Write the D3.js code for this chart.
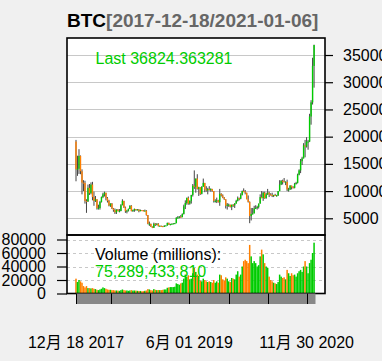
<!DOCTYPE html>
<html><head><meta charset="utf-8">
<script src="https://cdn.jsdelivr.net/npm/d3@7"></script>
<style>
html,body{margin:0;padding:0;background:#f0f0f0;}
svg{display:block;font-family:"Liberation Sans",Arial,"Noto Sans CJK SC",sans-serif;}
</style></head>
<body><svg id="c" width="382" height="361"></svg>
<script>
// weekly candles, week starting Monday 2017-12-18 .. 2021-01-04
const open = [19100,14000,
 14100,16477,13650,11560,11500,8200,8100,10600,9600,11200,8900,8200,8500,6850,6900,8000,8900,9400,9700,8700,8200,7350,7700,6800,6500,6100,6600,6300,6350,7400,8200,7000,6300,6400,6700,7300,6300,6500,6700,6600,6600,6300,6500,6450,6400,6400,5600,4000,4000,3500,3250,4000,3850,
 4000,3550,3600,3550,3450,3650,3680,4150,3850,3950,4000,4050,4100,5100,5150,5300,5200,5800,7200,7800,8750,7700,8200,9300,11000,10800,12300,10400,10700,9500,10800,11500,10300,10100,10400,10300,10400,10000,8200,8200,8300,7950,9500,9200,8800,8500,7300,7500,7500,7100,7500,7400,
 7700,8200,8700,8600,9300,10000,9900,9700,8500,8000,5400,5800,5900,6800,6900,7100,7700,8900,8700,9700,8700,9400,9700,9400,9300,9100,9300,9200,9200,10000,11200,11900,11800,11700,11700,10300,10300,11000,10700,10600,11300,11500,13000,13800,15500,16000,18400,18200,19100,19100,23700,26300,
 33000];
const high = [19400,16500,
 17700,16540,14000,12000,11900,8500,11200,11300,11600,11700,9900,9100,8500,7500,8200,9000,9700,9900,9700,8900,8400,7750,7800,6900,6800,6650,6700,6700,7600,8500,8200,7150,6550,6800,7400,7400,6600,6800,6700,6700,6700,6600,6500,6500,6600,6500,5600,4400,4000,3500,4200,4100,4100,
 4100,3700,3650,3600,3700,3700,4200,4200,4000,4050,4100,4150,5200,5400,5400,5600,5900,7500,8300,8800,9000,8300,9300,11300,13800,12300,13100,10800,10700,10900,12300,11500,10900,10600,10900,10500,10400,10000,8500,8800,8400,10400,9600,9400,8900,8500,7800,7700,7500,7500,7600,7800,
 8400,9000,8800,9600,10100,10500,10200,9700,9200,8100,6900,6900,7300,7400,7300,7700,9400,10000,9900,9900,9700,10400,9900,9600,9700,9300,9500,9300,10000,12000,12000,12100,12400,11800,12100,10600,11100,11000,10900,11500,11700,13200,14000,15900,16300,18800,19400,19900,19400,24200,26700,34500,
 36900];
const low = [11800,12800,
 13154,13100,9400,10000,7700,6000,8000,9300,9400,8300,7300,8000,6600,6600,6600,7900,8700,9000,8300,7900,7200,7100,6700,6200,5800,5800,6300,6100,6300,7400,6900,6000,5900,6250,6700,6300,6200,6200,6400,6500,6100,6300,6400,6300,6300,5500,3900,3600,3400,3200,3250,3600,3700,
 3500,3550,3500,3400,3400,3600,3650,3800,3700,3850,3950,3950,4100,4950,5000,5100,5200,5700,6700,7500,7500,7500,7700,9000,10400,9700,10300,9100,9300,9400,10800,9800,9900,9400,10100,9900,9900,7900,7900,7800,7900,7300,9000,8700,8400,6800,6600,7100,7000,6500,7100,6900,
 7700,8100,8300,8500,9200,9800,9400,8500,7900,4100,4600,5700,5900,6700,6600,6800,7700,8700,8200,8600,8600,9300,8900,9200,8900,8900,9100,9000,9100,10000,11100,11200,11600,11100,10000,9900,10200,10300,10500,10500,11200,11400,12900,13300,14800,16000,16200,18000,17600,19000,22200,25900,
 29000];
const close = [14000,14100,
 16477,13650,11560,11500,8200,8100,10600,9600,11200,8900,8200,8500,6850,6900,8000,8900,9400,9700,8700,8200,7350,7700,6800,6500,6100,6600,6300,6350,7400,8200,7000,6300,6400,6700,7300,6300,6500,6700,6600,6600,6300,6500,6450,6400,6400,5600,4000,4000,3500,3250,4000,3850,4000,
 3550,3600,3550,3450,3650,3680,4150,3850,3950,4000,4050,4100,5100,5150,5300,5200,5800,7200,7800,8750,7700,8200,9300,11000,10800,12300,10400,10700,9500,10800,11500,10300,10100,10400,10300,10400,10000,8200,8200,8300,7950,9500,9200,8800,8500,7300,7500,7500,7100,7500,7400,7700,
 8200,8700,8600,9300,10000,9900,9700,8500,8000,5400,5800,5900,6800,6900,7100,7700,8900,8700,9700,8700,9400,9700,9400,9300,9100,9300,9200,9200,10000,11200,11900,11800,11700,11700,10300,10300,11000,10700,10600,11300,11500,13000,13800,15500,16000,18400,18200,19100,19100,23700,26300,33000,
 36824.363281];
// volume (millions)
const volume = [22000,17000,
 20000,18000,16000,11000,9000,11000,8000,8000,7500,8000,7000,6500,5500,5000,6000,7000,9000,8000,7000,6000,5500,5500,5000,5000,4500,4500,4300,4000,5000,6000,5000,4500,4500,4000,4500,5000,4300,4500,4300,4000,3800,3800,3300,3500,4000,4500,6500,6000,5000,4500,6500,5500,5000,
 5200,5000,5000,5500,6000,6000,8500,9000,9500,9500,9500,10000,15000,14000,13000,15000,16000,22000,28000,25000,27000,21000,22000,30000,38000,32000,28000,26000,19000,18000,22000,20000,18000,17000,18000,17000,16000,20000,16000,18000,16000,28000,27000,21000,19000,24000,22000,18000,17000,23000,22000,21000,
 28000,33000,25000,28000,40000,48000,50000,48000,45000,72000,55000,45000,48000,45000,40000,42000,55000,65000,58000,45000,40000,38000,25000,20000,18000,16000,15000,14000,17000,28000,25000,23000,24000,21000,35000,30000,26000,30000,27000,28000,25000,30000,33000,35000,32000,40000,48000,40000,30000,45000,50000,60000,
 75289.43381];
const priceTicks = [5000,10000,15000,20000,25000,30000,35000];
const volTicks = [0,20000,40000,60000,80000];
const axisTickDates = ["2017-12-18","2018-06-01","2018-12-01","2019-06-01","2019-12-01","2020-06-01","2020-11-30"];
const labelledTicks = ["2017-12-18","2019-06-01","2020-11-30"];
const symbol = "BTC", rangeText = "[2017-12-18/2021-01-06]";

const parse = d3.timeParse("%Y-%m-%d");
const dates = d3.timeMonday.range(parse("2017-12-18"), parse("2021-01-05"));
const data = dates.map((d,i)=>({d, o:open[i], h:high[i], l:low[i], c:close[i], v:volume[i]}));

const upCol = "#00cc00", dnCol = "#ff7f00", wickCol = "#444444";
const L = 67, R = 325, T1 = 38, B1 = 235, B2 = 293.5;
const FS = "16px";
const svg = d3.select("#c");
const x = d3.scaleTime().domain([parse("2017-12-18"), parse("2021-01-06")]).range([76, 314.5]);
const yP = d3.scaleLinear().domain([1932, 38125]).range([B1, T1]);
const yV = d3.scaleLinear().domain([0, 86670]).range([B2, B1]);

// panels
svg.append("rect").attr("x",L).attr("y",T1).attr("width",R-L).attr("height",B1-T1).attr("fill","#fff");
svg.append("rect").attr("x",L).attr("y",B1).attr("width",R-L).attr("height",B2-B1).attr("fill","#fff");

// price grid
svg.append("g").selectAll("line").data(priceTicks).join("line")
  .attr("x1",L).attr("x2",R).attr("y1",d=>Math.round(yP(d))+0.5).attr("y2",d=>Math.round(yP(d))+0.5)
  .attr("stroke","#c8c8c8").attr("stroke-width",1.2);
// volume grid
svg.append("g").selectAll("line").data(volTicks.filter(v=>v>0)).join("line")
  .attr("x1",L).attr("x2",R).attr("y1",d=>Math.round(yV(d))+0.5).attr("y2",d=>Math.round(yV(d))+0.5)
  .attr("stroke","#c8c8c8").attr("stroke-dasharray","3,3");

// candles
const bw = 1.4;
const cg = svg.append("g");
cg.selectAll("line").data(data).join("line")
  .attr("x1",d=>x(d.d)).attr("x2",d=>x(d.d)).attr("y1",d=>yP(d.h)).attr("y2",d=>yP(d.l))
  .attr("stroke",wickCol).attr("stroke-width",1);
cg.selectAll("rect").data(data).join("rect")
  .attr("x",d=>x(d.d)-bw/2).attr("width",bw)
  .attr("y",d=>yP(Math.max(d.o,d.c))).attr("height",d=>Math.max(1,Math.abs(yP(d.o)-yP(d.c))))
  .attr("fill",d=>d.c>=d.o?upCol:dnCol);

// volume bars
svg.append("g").selectAll("rect").data(data).join("rect")
  .attr("x",d=>x(d.d)-0.75).attr("width",1.5)
  .attr("y",d=>yV(d.v)).attr("height",d=>yV(0)-yV(d.v))
  .attr("fill",d=>d.c>=d.o?upCol:dnCol);

// borders
svg.append("rect").attr("x",L).attr("y",T1).attr("width",R-L).attr("height",B1-T1)
  .attr("fill","none").attr("stroke","#000").attr("stroke-width",1.6);
svg.append("rect").attr("x",L).attr("y",B1).attr("width",R-L).attr("height",B2-B1)
  .attr("fill","none").attr("stroke","#000").attr("stroke-width",1.6);

// price axis (right)
const ax1 = svg.append("g").attr("transform",`translate(${R},0)`)
  .call(d3.axisRight(yP).tickValues(priceTicks).tickFormat(d3.format("d")).tickSize(8).tickPadding(10));
ax1.select(".domain").remove();
ax1.selectAll("line").attr("stroke","#000").attr("stroke-width",1.2);
ax1.selectAll("text").attr("font-size",FS).attr("font-family","Liberation Sans, Arial").attr("fill","#000");

// volume axis (left)
const ax2 = svg.append("g").attr("transform",`translate(${L},0)`)
  .call(d3.axisLeft(yV).tickValues(volTicks).tickFormat(d3.format("d")).tickSize(10).tickPadding(11));
ax2.select(".domain").remove();
ax2.selectAll("line").attr("stroke","#000").attr("stroke-width",1.2);
ax2.selectAll("text").attr("font-size",FS).attr("font-family","Liberation Sans, Arial").attr("fill","#000");

// gray date bar
svg.append("rect").attr("x",x(parse("2017-12-18"))).attr("y",B2).attr("width",x(parse("2021-01-06"))-x(parse("2017-12-18"))+1)
  .attr("height",304-B2).attr("fill","#888888");
svg.append("g").selectAll("line").data(axisTickDates.map(parse)).join("line")
  .attr("x1",d=>Math.round(x(d))+0.5).attr("x2",d=>Math.round(x(d))+0.5).attr("y1",B2).attr("y2",304)
  .attr("stroke","#000").attr("stroke-width",1);
const fmt = d3.timeFormat("%-m月 %d %Y");
svg.append("g").selectAll("text").data(labelledTicks.map(parse)).join("text")
  .attr("x",d=>x(d)).attr("y",348).attr("text-anchor","middle")
  .attr("font-size",FS).attr("fill","#000").text(d=>fmt(d));

// title
const t = svg.append("text").attr("x",67).attr("y",26.7).attr("font-size","19px").attr("font-weight","bold");
t.append("tspan").attr("fill","#000").text(symbol);
t.append("tspan").attr("fill","#666").text(rangeText);

// annotations
const last = close[close.length-1];
svg.append("text").attr("x",95.5).attr("y",63.5).attr("font-size",FS).attr("fill",upCol)
  .text("Last " + d3.format(".6f")(last));
svg.append("text").attr("x",95).attr("y",260).attr("font-size",FS).attr("fill","#000").text("Volume (millions):");
svg.append("text").attr("x",95).attr("y",277).attr("font-size",FS).attr("fill",upCol)
  .text(d3.format(",")(Math.round(volume[volume.length-1]*1e6)));
</script></body></html>
